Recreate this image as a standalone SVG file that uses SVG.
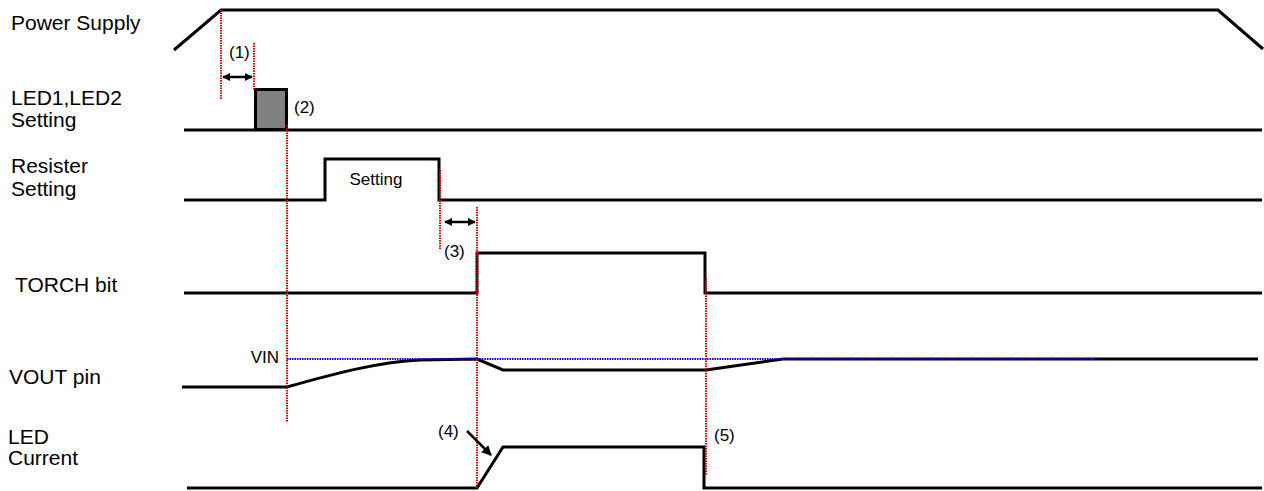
<svg xmlns="http://www.w3.org/2000/svg" width="1264" height="491" viewBox="0 0 1264 491">
<style>
.lbl{font-family:"Liberation Sans",Arial,sans-serif;font-size:21px;fill:#000}
.sm{font-family:"Liberation Sans",Arial,sans-serif;font-size:17px;fill:#000}
.sig{fill:none;stroke:#000;stroke-width:3;stroke-linejoin:miter}
.red{fill:none;stroke:#e00000;stroke-width:2;stroke-dasharray:1.5 1}
.blue{fill:none;stroke:#0000e0;stroke-width:2;stroke-dasharray:1.5 1}
.arr{fill:none;stroke:#000;stroke-width:2.5}
</style>
<defs>
<marker id="ah" viewBox="0 0 10 10" refX="9" refY="5" markerWidth="3.2" markerHeight="3.2" orient="auto-start-reverse" markerUnits="strokeWidth">
<path d="M0,0 L10,5 L0,10 z" fill="#000"/>
</marker>
<marker id="ah2" viewBox="0 0 10 10" refX="9" refY="5" markerWidth="4" markerHeight="4" orient="auto" markerUnits="strokeWidth">
<path d="M0,0 L10,5 L0,10 z" fill="#000"/>
</marker>
</defs>
<rect width="1264" height="491" fill="#fff"/>
<g id="labels">
<text class="lbl" x="11" y="30">Power Supply</text>
<text class="lbl" x="11" y="105">LED1,LED2</text>
<text class="lbl" x="11" y="127">Setting</text>
<text class="lbl" x="11" y="173">Resister</text>
<text class="lbl" x="11" y="196">Setting</text>
<text class="lbl" x="15" y="292">TORCH bit</text>
<text class="lbl" x="9" y="384">VOUT pin</text>
<text class="lbl" x="8" y="444">LED</text>
<text class="lbl" x="8" y="465">Current</text>
</g>
<g id="power-supply">
<polyline class="sig" points="174,50 221,10 1218,10 1263,49"/>
</g>
<g id="led-setting">
<line class="sig" x1="184" y1="130" x2="1262" y2="130"/>
<rect x="255.5" y="89.5" width="31" height="40" fill="#808080" stroke="#000" stroke-width="3"/>
</g>
<g id="resister-setting">
<polyline class="sig" points="184,200 325,200 325,159 439,159 439,200 1262,200"/>
<text class="sm" x="376" y="185" text-anchor="middle">Setting</text>
</g>
<g id="torch-bit">
<polyline class="sig" points="184,293 477,293 477,253 705,253 705,293 1262,293"/>
</g>
<g id="vout-pin">
<path class="sig" d="M182,387 L287,387 C340,372 380,362 420,360 L477,359 L503,370 L706,370 L783,359 L1258,359"/>
<line class="blue" x1="287" y1="359" x2="1095" y2="359"/>
<text class="sm" x="279" y="363" text-anchor="end">VIN</text>
</g>
<g id="led-current">
<polyline class="sig" points="187,488 477,488 503,447 704,447 704,488 1262,488"/>
</g>
<g id="connectors">
<line class="red" x1="221" y1="10" x2="221" y2="100"/>
<line class="red" x1="254" y1="43" x2="254" y2="90"/>
<line class="red" x1="287" y1="125" x2="287" y2="422"/>
<line class="red" x1="440" y1="170" x2="440" y2="250"/>
<line class="red" x1="477" y1="207" x2="477" y2="488"/>
<line class="red" x1="706" y1="278" x2="706" y2="475"/>
<line class="arr" x1="223" y1="77" x2="252" y2="77" marker-start="url(#ah)" marker-end="url(#ah)"/>
<line class="arr" x1="445" y1="222" x2="475" y2="222" marker-start="url(#ah)" marker-end="url(#ah)"/>
<line class="arr" x1="467" y1="431" x2="491" y2="455" marker-end="url(#ah2)"/>
<text class="sm" x="229" y="58">(1)</text>
<text class="sm" x="294" y="113">(2)</text>
<text class="sm" x="444" y="257">(3)</text>
<text class="sm" x="438" y="437">(4)</text>
<text class="sm" x="714" y="441">(5)</text>
</g>
</svg>
